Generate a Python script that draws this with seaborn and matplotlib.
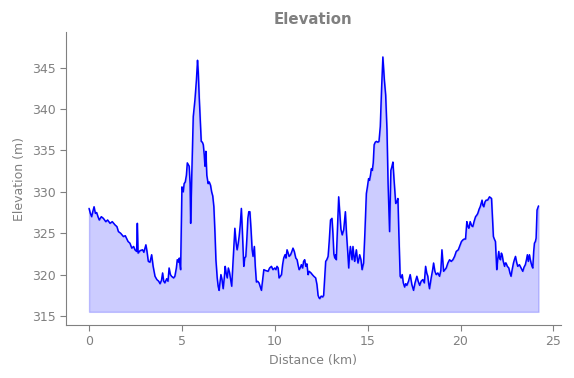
import matplotlib
matplotlib.use("Agg")
import matplotlib.pyplot as plt
import seaborn as sns
import numpy as np
import pandas as pd

distance_km = [
    0.0, 0.07, 0.14, 0.2, 0.27, 0.34, 0.41, 0.48, 0.55, 0.66, 0.77, 0.9, 1.0, 1.13, 1.25, 1.4, 1.5, 1.58, 1.7, 1.85,
    1.95, 2.1, 2.2, 2.3, 2.4, 2.47, 2.56, 2.6, 2.64, 2.75, 2.88, 2.95, 3.06, 3.12, 3.19, 3.28, 3.37, 3.45, 3.55, 3.65,
    3.75, 3.82, 3.9, 3.96, 4.02, 4.08, 4.18, 4.25, 4.31, 4.38, 4.44, 4.55, 4.62, 4.7, 4.75, 4.82, 4.86, 4.93, 5.0, 5.07,
    5.12, 5.18, 5.24, 5.29, 5.39, 5.44, 5.47, 5.53, 5.61, 5.7, 5.78, 5.84, 5.88, 5.93, 6.0, 6.04, 6.1, 6.15, 6.2, 6.24,
    6.29, 6.34, 6.41, 6.47, 6.54, 6.6, 6.66, 6.72, 6.78, 6.83, 6.9, 6.95, 7.0, 7.05, 7.1, 7.16, 7.22, 7.28, 7.33, 7.38,
    7.44, 7.5, 7.56, 7.61, 7.68, 7.75, 7.8, 7.85, 7.91, 7.97, 8.02, 8.08, 8.14, 8.2, 8.25, 8.33, 8.38, 8.44, 8.5, 8.55,
    8.6, 8.66, 8.72, 8.78, 8.83, 8.9, 8.95, 9.01, 9.08, 9.15, 9.22, 9.28, 9.35, 9.41, 9.5, 9.64, 9.72, 9.82, 9.9, 10.0,
    10.06, 10.12, 10.18, 10.23, 10.3, 10.36, 10.42, 10.48, 10.55, 10.6, 10.66, 10.72, 10.77, 10.85, 10.92, 10.98, 11.05, 11.13, 11.2, 11.25,
    11.31, 11.37, 11.43, 11.5, 11.55, 11.61, 11.67, 11.73, 11.79, 11.85, 11.95, 12.02, 12.1, 12.2, 12.27, 12.33, 12.38, 12.42, 12.5, 12.58,
    12.63, 12.7, 12.74, 12.8, 12.87, 12.93, 13.0, 13.08, 13.13, 13.18, 13.23, 13.28, 13.31, 13.38, 13.44, 13.5, 13.56, 13.63, 13.71, 13.8,
    13.86, 13.92, 13.98, 14.03, 14.07, 14.12, 14.16, 14.21, 14.26, 14.3, 14.35, 14.39, 14.44, 14.48, 14.53, 14.57, 14.64, 14.7, 14.74, 14.78,
    14.85, 14.93, 14.98, 15.05, 15.1, 15.15, 15.2, 15.25, 15.3, 15.35, 15.41, 15.47, 15.55, 15.61, 15.68, 15.75, 15.82, 15.9, 15.97, 16.04,
    16.1, 16.18, 16.25, 16.3, 16.36, 16.42, 16.51, 16.57, 16.63, 16.68, 16.75, 16.8, 16.86, 16.92, 16.99, 17.05, 17.11, 17.2, 17.29, 17.38,
    17.47, 17.55, 17.65, 17.72, 17.8, 17.88, 17.97, 18.05, 18.12, 18.18, 18.24, 18.28, 18.33, 18.42, 18.5, 18.55, 18.62, 18.69, 18.78, 18.87,
    18.94, 19.0, 19.05, 19.09, 19.16, 19.23, 19.32, 19.41, 19.5, 19.59, 19.68, 19.77, 19.88, 19.98, 20.05, 20.13, 20.2, 20.27, 20.34, 20.4,
    20.45, 20.52, 20.6, 20.66, 20.74, 20.81, 20.88, 20.93, 21.0, 21.06, 21.12, 21.16, 21.2, 21.25, 21.32, 21.38, 21.46, 21.56, 21.62, 21.67,
    21.72, 21.77, 21.82, 21.88, 21.92, 21.95, 22.0, 22.06, 22.1, 22.15, 22.2, 22.24, 22.3, 22.37, 22.41, 22.45, 22.52, 22.6, 22.66, 22.72,
    22.78, 22.85, 22.9, 22.96, 23.02, 23.08, 23.17, 23.26, 23.3, 23.35, 23.42, 23.49, 23.55, 23.6, 23.65, 23.71, 23.76, 23.8, 23.85, 23.89,
    23.94, 23.98, 24.03, 24.07, 24.12, 24.2,
]

elevation_m = [
    328.0, 327.4, 327.0, 327.6, 328.2, 327.4, 327.5, 327.0, 326.6, 327.0, 326.8, 326.4, 326.6, 326.2, 326.4, 326.0, 325.8, 325.2, 325.0, 324.6,
    324.7, 324.0, 323.8, 323.2, 323.4, 323.0, 322.8, 326.2, 322.6, 322.9, 323.0, 322.7, 323.6, 322.8, 321.6, 321.5, 322.4, 321.0, 319.8, 319.4,
    319.2, 318.9, 319.3, 320.2, 319.2, 319.0, 319.5, 319.2, 320.8, 320.0, 319.8, 319.6, 319.8, 320.8, 321.8, 321.5, 322.0, 320.6, 330.6, 330.0,
    331.0, 331.2, 332.0, 333.5, 333.1, 331.0, 326.2, 332.0, 339.1, 341.1, 343.5, 345.9, 344.5, 341.5, 338.0, 336.1, 336.0, 335.7, 334.5, 333.1,
    334.9, 332.0, 331.0, 331.2, 330.8, 330.0, 329.5, 328.2, 325.0, 321.8, 319.6, 318.6, 318.1, 319.0, 320.0, 319.4, 318.3, 319.6, 321.0, 320.2,
    319.6, 320.8, 320.3, 319.6, 318.6, 321.5, 323.5, 325.6, 324.0, 323.0, 323.6, 324.6, 326.0, 328.0, 325.5, 321.0, 322.0, 322.2, 324.5, 326.8,
    327.6, 327.6, 325.5, 323.0, 322.2, 323.4, 321.0, 319.1, 319.2, 319.0, 318.5, 318.1, 319.5, 320.6, 320.5, 320.4, 320.8, 321.0, 320.6, 320.8,
    320.6, 321.0, 320.8, 319.6, 319.8, 320.0, 321.2, 322.0, 322.4, 322.0, 323.0, 322.6, 322.2, 322.4, 322.8, 323.2, 322.8, 322.0, 321.8, 321.2,
    320.6, 320.8, 321.2, 320.8, 321.6, 321.8, 321.0, 321.3, 320.0, 320.4, 320.2, 320.0, 319.8, 319.6, 318.8, 317.5, 317.2, 317.1, 317.4, 317.3,
    317.5, 320.0, 321.6, 321.8, 322.2, 324.0, 326.6, 326.8, 325.0, 322.5, 322.0, 322.4, 321.8, 326.0, 329.4, 327.5, 325.5, 324.8, 325.4, 327.6,
    325.0, 323.0, 320.8, 322.5, 323.4, 322.5, 321.8, 323.4, 322.2, 321.6, 322.4, 323.0, 322.0, 321.4, 321.9, 322.4, 321.8, 320.6, 321.0, 321.4,
    325.0, 329.8, 330.5, 331.6, 331.4, 332.0, 332.8, 332.6, 333.5, 335.7, 336.0, 336.1, 336.0, 336.1, 337.9, 342.5, 346.3, 343.5, 341.7, 337.5,
    331.0, 325.2, 332.6, 333.0, 333.6, 331.5, 328.6, 328.8, 329.2, 325.0, 319.8, 319.6, 320.0, 319.0, 318.5, 318.9, 318.7, 319.2, 320.0, 318.8,
    318.1, 319.0, 319.8, 319.2, 318.7, 319.2, 319.4, 319.0, 321.0, 320.2, 319.8, 319.0, 318.3, 319.6, 320.6, 321.4, 320.4, 320.0, 320.2, 319.8,
    320.5, 323.0, 321.5, 320.4, 320.6, 320.8, 321.4, 321.8, 321.6, 321.8, 322.2, 322.8, 323.0, 323.6, 324.0, 324.2, 324.3, 324.3, 326.4, 325.8,
    325.6, 326.4, 325.9, 325.8, 326.5, 327.0, 327.2, 327.4, 327.9, 328.2, 328.7, 329.0, 328.4, 328.2, 328.8, 329.0, 329.0, 329.4, 329.3, 329.2,
    327.0, 324.6, 324.3, 324.0, 322.0, 320.6, 321.8, 322.8, 322.0, 321.8, 322.6, 322.4, 321.6, 321.0, 321.4, 321.4, 321.0, 320.8, 320.2, 319.8,
    320.6, 321.4, 321.8, 322.2, 321.5, 321.0, 321.2, 320.8, 320.6, 320.4, 320.9, 321.2, 321.8, 322.4, 321.6, 322.4, 321.8, 321.4, 321.0, 320.8,
    322.8, 323.8, 324.0, 324.4, 327.8, 328.3,
]

fill_base_m = 315.5

title_text = "Elevation"
x_label = "Distance (km)"
y_label = "Elevation (m)"

sns.set_style("ticks")
plt.rcParams['font.family'] = ['DejaVu Sans']

grey = "#808080"

df = pd.DataFrame({"distance": distance_km, "elevation": elevation_m})

fig = plt.figure(figsize=(5.74, 3.78), dpi=100)
ax = fig.add_axes([0.115, 0.140, 0.862, 0.775])

ax.fill_between(df["distance"], df["elevation"], fill_base_m, color="blue", alpha=0.2, linewidth=1)
sns.lineplot(data=df, x="distance", y="elevation", ax=ax, color="blue", linewidth=1.1, sort=False)

ax.set_xlim(-1.24, 25.4)
ax.set_ylim(313.9, 349.3)
ax.set_xticks([0, 5, 10, 15, 20, 25])
ax.set_yticks([315, 320, 325, 330, 335, 340, 345])

ax.set_title(title_text, fontsize=10.8, fontweight="bold", color=grey, pad=6)
ax.set_xlabel(x_label, fontsize=9, color=grey)
ax.set_ylabel(y_label, fontsize=9, color=grey)
ax.tick_params(colors=grey, labelsize=9, length=4)
for side in ["left", "bottom"]:
    ax.spines[side].set_color(grey)
sns.despine(ax=ax)

fig.savefig("out.png", dpi=100)
